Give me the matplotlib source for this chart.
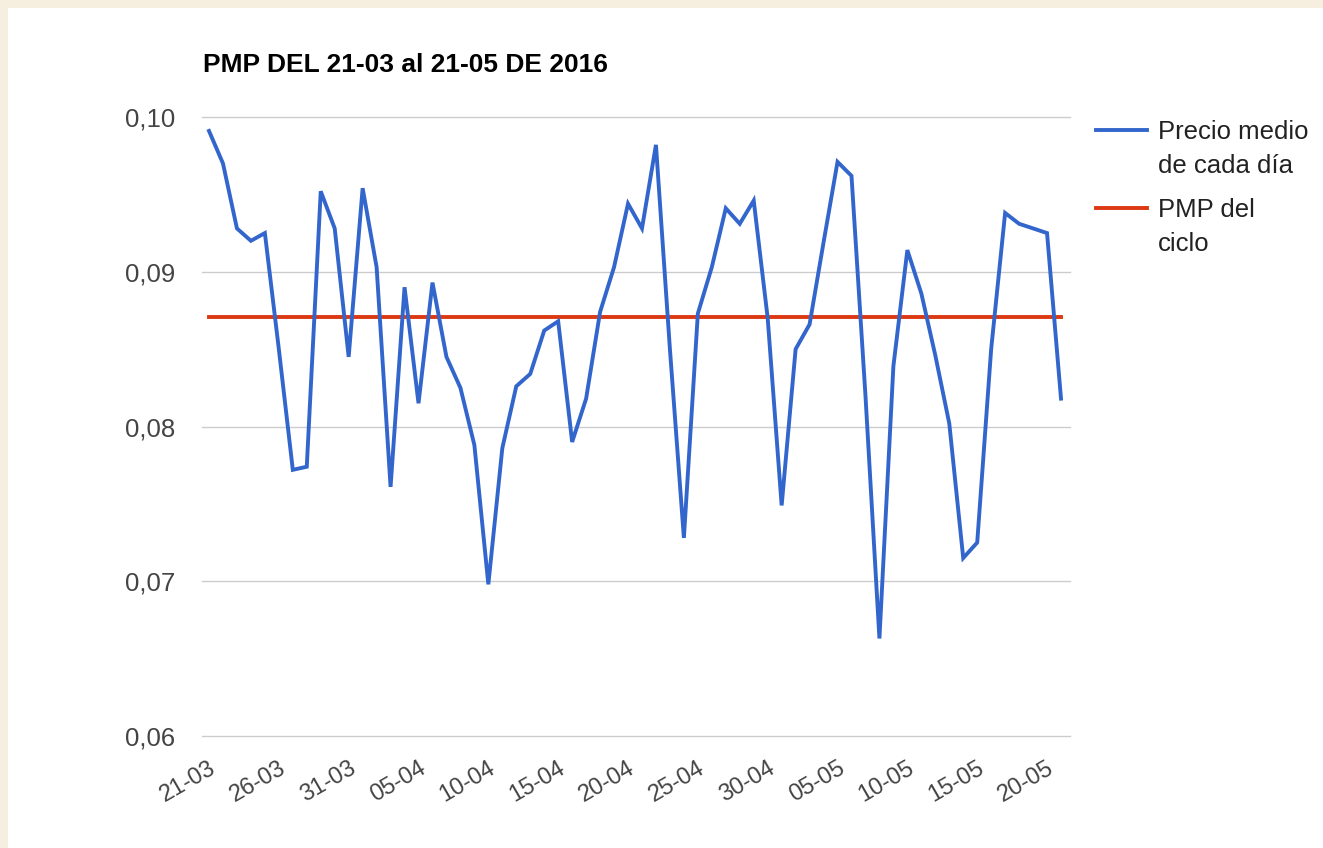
import matplotlib
matplotlib.use("Agg")
import matplotlib.pyplot as plt
import pandas as pd
from matplotlib.lines import Line2D
from matplotlib.patches import Rectangle

# ---- data ----
dates = pd.date_range("2016-03-21", "2016-05-21", freq="D")
precio_medio = [
    0.0991, 0.0970, 0.0928, 0.0920, 0.0925, 0.0850, 0.0772, 0.0774, 0.0952, 0.0928,
    0.0845, 0.0954, 0.0903, 0.0761, 0.0890, 0.0815, 0.0893, 0.0845, 0.0825, 0.0788,
    0.0698, 0.0786, 0.0826, 0.0834, 0.0862, 0.0868, 0.0790, 0.0818, 0.0874, 0.0903,
    0.0944, 0.0928, 0.0982, 0.0850, 0.0728, 0.0873, 0.0903, 0.0941, 0.0931, 0.0946,
    0.0870, 0.0749, 0.0850, 0.0866, 0.0919, 0.0971, 0.0962, 0.0820, 0.0663, 0.0839,
    0.0914, 0.0886, 0.0846, 0.0802, 0.0715, 0.0725, 0.0850, 0.0938, 0.0931, 0.0928,
    0.0925, 0.0818,
]
pmp_ciclo = 0.0871
y_ticks = [0.06, 0.07, 0.08, 0.09, 0.10]
y_tick_labels = ["0,06", "0,07", "0,08", "0,09", "0,10"]
tick_step = 5
title = "PMP DEL 21-03 al 21-05 DE 2016"
legend_labels = ["Precio medio\nde cada día", "PMP del\nciclo"]

# ---- figure ----
W, H = 1323, 848
fig = plt.figure(figsize=(W / 100, H / 100), dpi=100)
fig.patch.set_facecolor("white")
cream = "#f6efe0"
fig.patches.append(Rectangle((0, 1 - 8 / H), 1, 8 / H, transform=fig.transFigure,
                             facecolor=cream, edgecolor="none", zorder=0))
fig.patches.append(Rectangle((0, 0), 8 / W, 1, transform=fig.transFigure,
                             facecolor=cream, edgecolor="none", zorder=0))

FONT = "Liberation Sans"
BLUE = "#3366cc"
RED = "#dc3912"

ax_left, ax_right, ax_top, ax_bottom = 202, 1070, 117, 736
ax = fig.add_axes([ax_left / W, 1 - ax_bottom / H, (ax_right - ax_left) / W,
                   (ax_bottom - ax_top) / H])
ax.set_facecolor("white")

x = list(range(len(dates)))
ax.plot(x, precio_medio, color=BLUE, lw=2.8, solid_joinstyle="miter", zorder=3)
ax.plot([x[0], x[-1]], [pmp_ciclo, pmp_ciclo], color=RED, lw=2.8, zorder=2)

px_per_day = (1061 - 209) / (len(dates) - 1)
ax.set_xlim(-(209 - ax_left) / px_per_day, x[-1] + (ax_right - 1061) / px_per_day)
ax.set_ylim(0.06, 0.10)

ax.set_yticks(y_ticks)
ax.set_yticklabels(y_tick_labels, fontsize=18.5, family=FONT, color="#444444")
xt = x[::tick_step]
ax.set_xticks(xt)
ax.set_xticklabels([dates[i].strftime("%d-%m") for i in xt], rotation=30, ha="right",
                   va="top", rotation_mode="anchor", fontsize=17, family=FONT,
                   color="#444444")
ax.tick_params(axis="both", length=0)
ax.tick_params(axis="y", pad=19)
ax.tick_params(axis="x", pad=15)
ax.grid(axis="y", color="#cccccc", lw=1.0)
for gl in ax.get_ygridlines():
    gl.set_clip_on(False)
ax.set_axisbelow(True)
for s in ax.spines.values():
    s.set_visible(False)

fig.text(203 / W, 1 - 72 / H, title, fontsize=19, fontweight="bold", family=FONT,
         color="black", ha="left", va="baseline")

# legend
for (ly, col), lab in zip([(130, BLUE), (208, RED)], legend_labels):
    fig.add_artist(Line2D([1096 / W, 1147 / W], [1 - ly / H, 1 - ly / H], color=col,
                          lw=2.8, transform=fig.transFigure))
    fig.text(1158 / W, 1 - (ly - 10) / H, lab, fontsize=18.5, family=FONT,
             color="#222222", ha="left", va="top", linespacing=1.55)

fig.savefig("out.png", dpi=100, facecolor=fig.get_facecolor())
